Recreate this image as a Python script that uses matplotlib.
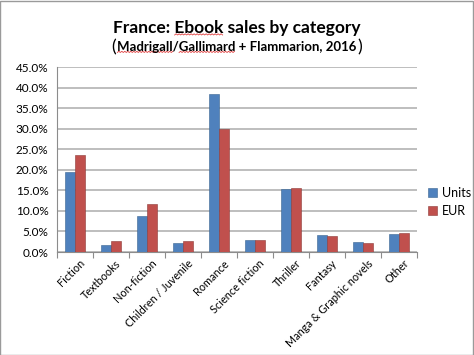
import numpy as np
import matplotlib.pyplot as plt
import matplotlib as mpl
from matplotlib.patches import Rectangle
from matplotlib.lines import Line2D
from matplotlib.transforms import ScaledTranslation

mpl.rcParams["font.family"] = ["Lato", "DejaVu Sans"]

categories = ["Fiction", "Textbooks", "Non-fiction", "Children / Juvenile", "Romance",
              "Science fiction", "Thriller", "Fantasy", "Manga & Graphic novels", "Other"]
units = [19.5, 1.7, 8.7, 2.3, 38.4, 3.0, 15.3, 4.2, 2.4, 4.3]
eur = [23.7, 2.6, 11.6, 2.8, 30.0, 2.85, 15.7, 3.8, 2.2, 4.7]

blue = "#4F81BD"
red = "#C0504D"

W, H = 474, 355
fig = plt.figure(figsize=(4.74, 3.55), dpi=100, facecolor="w")
ax = fig.add_axes([0.120, 0.290, 0.760, 0.521])

x = np.arange(len(categories))
w = 0.28
ax.bar(x - w/2, units, width=w, color=blue, ec="#3A6491", lw=0.4, label="Units", zorder=3)
ax.bar(x + w/2, eur, width=w, color=red, ec="#8E3A38", lw=0.4, label="EUR", zorder=3)

ax.set_ylim(0, 45)
ax.set_xlim(-0.5, len(categories) - 0.5)
ax.set_yticks(np.arange(0, 46, 5))
ax.set_yticklabels(["%.1f%%" % v for v in np.arange(0, 46, 5)], fontsize=8.5)
ax.yaxis.grid(True, color="#B3B3B3", lw=1.2, zorder=0)
ax.tick_params(axis="y", length=0, pad=6)

ax.set_xticks(x)
ax.set_xticklabels(categories, rotation=45, ha="right", va="top", fontsize=7.8,
                   rotation_mode="anchor")
ax.tick_params(axis="x", length=0, pad=4)
shift = ScaledTranslation(4 / 100, 0, fig.dpi_scale_trans)
for lab in ax.get_xticklabels():
    lab.set_transform(lab.get_transform() + shift)
ax.set_xticks(np.arange(-0.5, len(categories), 1), minor=True)
ax.tick_params(axis="x", which="minor", length=4, color="#8C8C8C", width=0.8)

for s in ["top", "right"]:
    ax.spines[s].set_visible(False)
ax.spines["left"].set_color("#8C8C8C")
ax.spines["bottom"].set_color("#8C8C8C")

leg = ax.legend(loc="center left", bbox_to_anchor=(1.0, 0.27), frameon=False,
                fontsize=9, handlelength=0.7, handleheight=0.7, handletextpad=0.4,
                labelspacing=0.5)

# titles
title = "France: Ebook sales by category"
sub = "Madrigall/Gallimard + Flammarion, 2016"
t1 = fig.text(0.5, 1 - 28 / H, title, ha="center", va="center",
              fontsize=12.5, fontweight="bold")
t2 = fig.text(0.5, 1 - 47 / H, sub, ha="center", va="center",
              fontsize=9.5, fontweight="bold")

fig.canvas.draw()
r = fig.canvas.get_renderer()


def width_of(s, size):
    t = fig.text(0, 0, s, fontsize=size, fontweight="bold")
    wd = t.get_window_extent(r).width
    t.remove()
    return wd


b1 = t1.get_window_extent(r)
b2 = t2.get_window_extent(r)
fig.text(b2.x0 - 1, b2.y0 + b2.height / 2, "(", ha="right", va="center", fontsize=13,
         transform=None)
fig.text(b2.x1 + 0.5, b2.y0 + b2.height / 2, ")", ha="left", va="center", fontsize=13,
         transform=None)


def squiggle(x0, x1, y):
    xs = np.arange(x0, x1 + 0.1, 1.5)
    ys = y + np.where(np.arange(len(xs)) % 2 == 0, 0.0, 1.2)
    fig.add_artist(Line2D(xs / W, ys / H, transform=fig.transFigure, color="#E04040", lw=0.6))


# spell-check underlines
ex0 = b1.x0 + width_of("France: ", 12.5)
squiggle(ex0, ex0 + width_of("Ebook", 12.5), b1.y0 + 1)
squiggle(b2.x0, b2.x0 + width_of("Madrigall", 9.5), b2.y0 + 0.5)
gx0 = b2.x0 + width_of("Madrigall/", 9.5)
squiggle(gx0, b2.x0 + width_of("Madrigall/Gallimard", 9.5), b2.y0 + 0.5)

fig.patches.append(Rectangle((0.001, 0.001), 0.997, 0.997, transform=fig.transFigure,
                             fill=False, ec="#9A9A9A", lw=1))

fig.savefig("out.png", dpi=100)
